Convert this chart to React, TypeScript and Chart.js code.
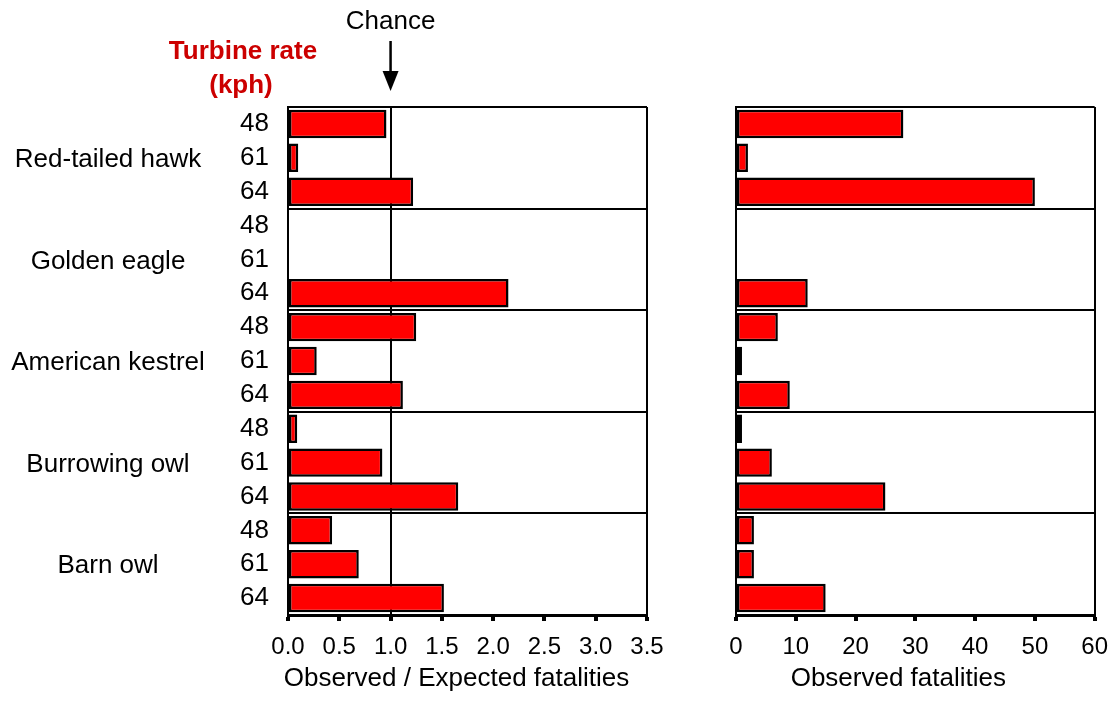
import React, { useEffect, useRef } from 'react';
import { Chart, registerables } from 'chart.js';

Chart.register(...registerables);

const species = ['Red-tailed hawk', 'Golden eagle', 'American kestrel', 'Burrowing owl', 'Barn owl'];
const turbineRates = ['48', '61', '64'];
const ratioValues = [0.96, 0.1, 1.22, 0, 0, 2.15, 1.25, 0.28, 1.12, 0.09, 0.92, 1.66, 0.43, 0.69, 1.52];
const fatalityValues = [28, 2, 50, 0, 0, 12, 7, 1, 9, 1, 6, 25, 3, 3, 15];
const ratioTicks = [0, 0.5, 1, 1.5, 2, 2.5, 3, 3.5];
const fatalityTicks = [0, 10, 20, 30, 40, 50, 60];
const chanceValue = 1;
const chanceLabel = 'Chance';
const rateTitle = ['Turbine rate', '(kph)'];
const leftAxisTitle = 'Observed / Expected fatalities';
const rightAxisTitle = 'Observed fatalities';

const categoryLabels = species.flatMap(() => turbineRates);

const FONT = "'Liberation Sans', Arial, Helvetica, sans-serif";
const TITLE_RED = '#cc0000';

type PanelCfg = {
  values: number[];
  ticks: number[];
  decimals: number;
  yWidth: number;
  padRight: number;
  showYLabels: boolean;
  frameValues: number[];
  title: string;
  titleShift: number;
  annotate: boolean;
};

function buildChart(canvas: HTMLCanvasElement, cfg: PanelCfg) {
  const maxTick = cfg.ticks[cfg.ticks.length - 1];
  const annotPlugin = {
    id: 'annot',
    afterDraw(chart: any) {
      const ctx = chart.ctx as CanvasRenderingContext2D;
      const area = chart.chartArea;
      const y = chart.scales.y;
      const x = chart.scales.x;
      ctx.save();
      ctx.fillStyle = '#000';
      ctx.textAlign = 'center';
      ctx.textBaseline = 'middle';
      ctx.font = `26px ${FONT}`;
      ctx.fillText(cfg.title, (area.left + area.right) / 2 + cfg.titleShift, 679);
      if (cfg.annotate) {
        species.forEach((name, g) => {
          const mid = y.getPixelForValue(g * turbineRates.length + 1);
          ctx.fillText(name, 108, mid + 2);
        });
        ctx.fillStyle = TITLE_RED;
        ctx.font = `bold 26px ${FONT}`;
        ctx.fillText(rateTitle[0], 243, 52);
        ctx.fillText(rateTitle[1], 241, 86);
        const cx = x.getPixelForValue(chanceValue);
        ctx.fillStyle = '#000';
        ctx.font = `26px ${FONT}`;
        ctx.fillText(chanceLabel, cx, 22);
        ctx.strokeStyle = '#000';
        ctx.lineWidth = 2.5;
        ctx.beginPath();
        ctx.moveTo(cx, 41);
        ctx.lineTo(cx, 74);
        ctx.stroke();
        ctx.beginPath();
        ctx.moveTo(cx - 8, 71);
        ctx.lineTo(cx + 8, 71);
        ctx.lineTo(cx, 91);
        ctx.closePath();
        ctx.fill();
      }
      ctx.restore();
    },
  };

  return new Chart(canvas, {
    type: 'bar',
    data: {
      labels: categoryLabels,
      datasets: [
        {
          data: cfg.values,
          backgroundColor: '#ff0000',
          borderColor: '#000000',
          borderWidth: 2.5,
          borderSkipped: false,
          barPercentage: 0.84,
          categoryPercentage: 1,
        },
      ],
    },
    options: {
      indexAxis: 'y',
      animation: false,
      responsive: false,
      maintainAspectRatio: false,
      devicePixelRatio: 1,
      layout: { padding: { top: 107, right: cfg.padRight, left: 0, bottom: 0 } },
      plugins: { legend: { display: false }, tooltip: { enabled: false }, title: { display: false } },
      scales: {
        x: {
          type: 'linear',
          min: 0,
          max: maxTick,
          afterBuildTicks: (scale: any) => {
            scale.ticks = cfg.ticks.map((v) => ({ value: v }));
          },
          afterFit: (scale: any) => {
            scale.height = 91;
          },
          ticks: {
            color: '#000',
            font: { family: FONT, size: 24 },
            padding: 12,
            maxRotation: 0,
            autoSkip: false,
            callback: (v: any) => Number(v).toFixed(cfg.decimals),
          },
          grid: {
            drawOnChartArea: true,
            drawTicks: true,
            tickLength: 6,
            tickWidth: 4,
            tickColor: '#000',
            lineWidth: 2,
            color: (c: any) =>
              c.tick && ((c.tick.value === chanceValue && cfg.annotate) || cfg.frameValues.includes(c.tick.value))
                ? '#000'
                : 'rgba(0,0,0,0)',
          },
          border: { display: true, color: '#000', width: 3 },
        },
        y: {
          type: 'category',
          afterFit: (scale: any) => {
            scale.width = cfg.yWidth;
          },
          ticks: {
            display: cfg.showYLabels,
            color: '#000',
            font: { family: FONT, size: 26 },
            padding: 19,
            autoSkip: false,
          },
          grid: {
            offset: true,
            drawTicks: false,
            lineWidth: 2,
            color: (c: any) =>
              typeof c.index === 'number' && c.index % turbineRates.length === 0 ? '#000' : 'rgba(0,0,0,0)',
          },
          border: { display: true, color: '#000', width: 2 },
        },
      },
    },
    plugins: [annotPlugin],
  } as any);
}

export default function App() {
  const leftRef = useRef<HTMLCanvasElement>(null);
  const rightRef = useRef<HTMLCanvasElement>(null);

  useEffect(() => {
    const left = buildChart(leftRef.current!, {
      values: ratioValues,
      ticks: ratioTicks,
      decimals: 1,
      yWidth: 288,
      padRight: 53,
      showYLabels: true,
      frameValues: [ratioTicks[ratioTicks.length - 1]],
      title: leftAxisTitle,
      titleShift: -11,
      annotate: true,
    });
    const right = buildChart(rightRef.current!, {
      values: fatalityValues,
      ticks: fatalityTicks,
      decimals: 0,
      yWidth: 36,
      padRight: 25,
      showYLabels: false,
      frameValues: [fatalityTicks[fatalityTicks.length - 1]],
      title: rightAxisTitle,
      titleShift: -17,
      annotate: false,
    });
    return () => {
      left.destroy();
      right.destroy();
    };
  }, []);

  return (
    <div style={{ position: 'fixed', left: 0, top: 0, width: 1120, height: 706, background: '#fff' }}>
      <canvas ref={leftRef} width={700} height={706} style={{ position: 'absolute', left: 0, top: 0, width: 700, height: 706 }} />
      <canvas ref={rightRef} width={420} height={706} style={{ position: 'absolute', left: 700, top: 0, width: 420, height: 706 }} />
    </div>
  );
}
